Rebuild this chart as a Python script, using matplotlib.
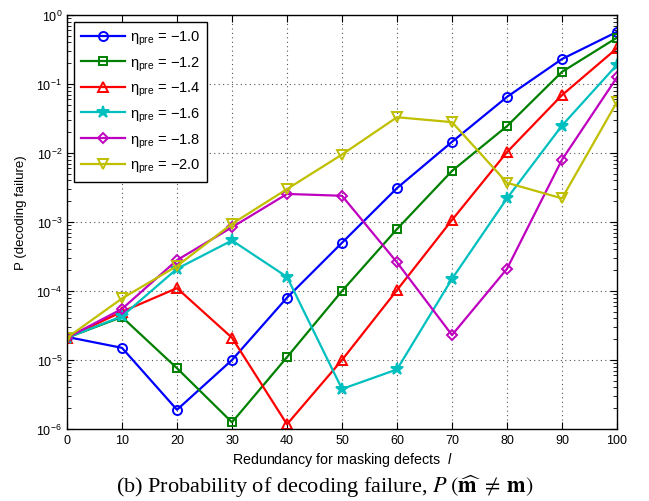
import matplotlib
matplotlib.use("Agg")
import matplotlib.pyplot as plt
import numpy as np
from matplotlib.ticker import LogLocator, NullFormatter

plt.rcParams['font.family'] = ['Liberation Sans', 'DejaVu Sans']
plt.rcParams['mathtext.fontset'] = 'custom'
plt.rcParams['mathtext.rm'] = 'Liberation Sans'
plt.rcParams['mathtext.it'] = 'Liberation Sans:italic'
plt.rcParams['mathtext.bf'] = 'Liberation Sans:bold'

# redundancy l
redundancy = [0, 10, 20, 30, 40, 50, 60, 70, 80, 90, 100]

# P(decoding failure) per eta_pre
eta_pre = ['-1.0', '-1.2', '-1.4', '-1.6', '-1.8', '-2.0']
p_eta_10 = [2.16e-5, 1.5e-5, 1.9e-6, 1.0e-5, 8.0e-5, 5.0e-4, 3.1e-3, 1.45e-2, 6.5e-2, 0.23, 0.57]
p_eta_12 = [2.1e-5, 4.2e-5, 7.6e-6, 1.25e-6, 1.1e-5, 1.0e-4, 7.9e-4, 5.5e-3, 2.45e-2, 0.15, 0.47]
p_eta_14 = [2.1e-5, 5.0e-5, 1.1e-4, 2.1e-5, 1.17e-6, 1.0e-5, 1.03e-4, 1.07e-3, 1.03e-2, 6.9e-2, 0.33]
p_eta_16 = [2.1e-5, 4.3e-5, 2.1e-4, 5.4e-4, 1.6e-4, 3.8e-6, 7.3e-6, 1.5e-4, 2.2e-3, 2.5e-2, 0.19]
p_eta_18 = [2.1e-5, 5.5e-5, 2.8e-4, 8.4e-4, 2.55e-3, 2.4e-3, 2.6e-4, 2.3e-5, 2.1e-4, 8.0e-3, 0.125]
p_eta_20 = [2.1e-5, 7.8e-5, 2.3e-4, 9.4e-4, 3.0e-3, 9.5e-3, 3.3e-2, 2.8e-2, 3.7e-3, 2.2e-3, 5.5e-2]
series = [p_eta_10, p_eta_12, p_eta_14, p_eta_16, p_eta_18, p_eta_20]

colors = ['#0000ff', '#008000', '#ff0000', '#00bfbf', '#bf00bf', '#bfbf00']
markers = ['o', 's', '^', '*', 'D', 'v']
msizes = [6.5, 5.5, 7, 9, 5.5, 7]

fig = plt.figure(figsize=(6.49, 5.02), dpi=100)
ax = fig.add_axes([67 / 649, 1 - 430 / 502, 550 / 649, 414 / 502])

for vals, lab, c, m, ms in zip(series, eta_pre, colors, markers, msizes):
    filled = c if m == '*' else 'none'
    ax.plot(redundancy, vals, color=c, marker=m, markersize=ms, linewidth=1.6,
            markerfacecolor=filled, markeredgewidth=1.4,
            label=r'$\mathrm{η}_{\mathrm{pre}}$ = ' + lab.replace('-', '\u2212'))

ax.set_yscale('log')
ax.set_xlim(0, 100)
ax.set_ylim(1e-6, 1)
ax.set_xticks(redundancy)
ax.yaxis.set_major_locator(LogLocator(base=10, numticks=10))
ax.yaxis.set_minor_locator(LogLocator(base=10, subs=np.arange(2, 10), numticks=20))
ax.yaxis.set_minor_formatter(NullFormatter())
ax.tick_params(which='both', direction='in', top=True, right=True, labelsize=9)
ax.tick_params(which='major', length=5)
ax.tick_params(which='minor', length=3)
ax.grid(True, which='major', linestyle=(0, (1, 3)), color='#555555', linewidth=0.8)
for s in ax.spines.values():
    s.set_linewidth(1.0)

ax.set_ylabel('P (decoding failure)', fontsize=9.5)
ax.yaxis.set_label_coords(-0.073, (430 - 213) / 414)
ax.set_xlabel(r'Redundancy for masking defects  $l$', fontsize=10.3, labelpad=3)

leg = ax.legend(loc='upper left', fontsize=10.5, fancybox=False, framealpha=1,
                edgecolor='black', handlelength=3.0, handletextpad=0.35,
                borderaxespad=0.5, labelspacing=0.5, borderpad=0.45)
leg.get_frame().set_linewidth(1.0)

fig.text(0.5, 1 - 493 / 502,
         r'(b) Probability of decoding failure, $P\;(\widehat{\mathbf{m}}\;\neq\;\mathbf{m})$',
         ha='center', va='baseline', fontsize=16, family='Liberation Serif',
         math_fontfamily='stix')

fig.savefig('out.png', dpi=100)
